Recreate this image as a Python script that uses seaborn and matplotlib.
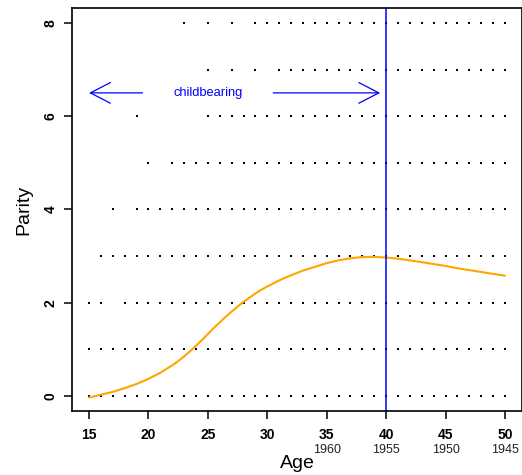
import numpy as np
import pandas as pd
import matplotlib
matplotlib.use("Agg")
import matplotlib.pyplot as plt
import seaborn as sns

# Ages (in years) at which women of each parity are observed
parity_0 = [15, 16, 17, 18, 19, 20, 21, 22, 23, 24, 25, 26, 27, 28, 29, 30, 31, 32,
            33, 34, 35, 36, 37, 38, 39, 40, 41, 42, 43, 44, 45, 46, 47, 48, 49, 50]
parity_1 = [15, 16, 17, 18, 19, 20, 21, 22, 23, 24, 25, 26, 27, 28, 29, 30, 31, 32,
            33, 34, 35, 36, 37, 38, 39, 40, 41, 42, 43, 44, 45, 46, 47, 48, 49, 50]
parity_2 = [15, 16, 18, 19, 20, 21, 22, 23, 24, 25, 26, 27, 28, 29, 30, 31, 32,
            33, 34, 35, 36, 37, 38, 39, 40, 41, 42, 43, 44, 45, 46, 47, 48, 49, 50]
parity_3 = [16, 17, 18, 19, 20, 21, 22, 23, 24, 25, 26, 27, 28, 29, 30, 31, 32,
            33, 34, 35, 36, 37, 38, 39, 40, 41, 42, 43, 44, 45, 46, 47, 48, 49, 50]
parity_4 = [17, 19, 20, 21, 22, 23, 24, 25, 26, 27, 28, 29, 30, 31, 32,
            33, 34, 35, 36, 37, 38, 39, 40, 41, 42, 43, 44, 45, 46, 47, 48, 49, 50]
parity_5 = [20, 22, 23, 24, 25, 26, 27, 28, 29, 30, 31, 32,
            33, 34, 35, 36, 37, 38, 39, 40, 41, 42, 43, 44, 45, 46, 47, 48, 49, 50]
parity_6 = [19, 25, 26, 27, 28, 29, 30, 31, 32,
            33, 34, 35, 36, 37, 38, 39, 40, 41, 42, 43, 44, 45, 46, 47, 48, 49, 50]
parity_7 = [25, 27, 29, 31, 32,
            33, 34, 35, 36, 37, 38, 39, 40, 41, 42, 43, 44, 45, 46, 47, 48, 49, 50]
parity_8 = [23, 25, 27, 29, 30, 31, 32,
            33, 34, 35, 36, 37, 38, 39, 40, 41, 42, 43, 44, 45, 46, 47, 48, 49, 50]

# Mean parity by age (smoothed), read at half-year steps
curve_age = [15, 16, 17, 18, 19, 20, 21, 22, 22.5, 23, 23.5, 24, 24.5, 25, 25.5,
             26, 26.5, 27, 27.5, 28, 28.5, 29, 29.5, 30, 31, 32, 33, 34, 35, 36,
             37, 38, 39, 40, 41, 42, 43, 44, 45, 46, 47, 48, 49, 50]
curve_parity = [-0.03, 0.03, 0.09, 0.17, 0.26, 0.37, 0.50, 0.66, 0.75, 0.85,
                0.96, 1.08, 1.20, 1.33, 1.46, 1.58, 1.70, 1.81, 1.92, 2.02,
                2.11, 2.20, 2.28, 2.35, 2.48, 2.59, 2.69, 2.77, 2.85, 2.91,
                2.955, 2.98, 2.985, 2.97, 2.945, 2.91, 2.87, 2.83, 2.79, 2.74,
                2.70, 2.66, 2.62, 2.58]

x_ticks = [15, 20, 25, 30, 35, 40, 45, 50]
y_ticks = [0, 2, 4, 6, 8]
cohort_ages = [35, 40, 45, 50]
cohort_years = ["1960", "1955", "1950", "1945"]
survey_age = 40

rows = [parity_0, parity_1, parity_2, parity_3, parity_4,
        parity_5, parity_6, parity_7, parity_8]
obs = pd.DataFrame(
    [(a, p) for p, ages in enumerate(rows) for a in ages],
    columns=["age", "parity"],
)
curve = pd.DataFrame({"age": curve_age, "parity": curve_parity})

sns.set_theme(style="white")
plt.rcParams["font.family"] = ["Liberation Sans", "DejaVu Sans"]

fig = plt.figure(figsize=(5.22, 4.75), dpi=100)
ax = fig.add_axes([0.1387, 0.1347, 0.8605, 0.8485])

sns.scatterplot(data=obs, x="age", y="parity", ax=ax, marker="s", s=4.2,
                color="black", linewidth=0, legend=False)
sns.lineplot(data=curve, x="age", y="parity", ax=ax, color="orange", lw=1.5)

ax.axvline(survey_age, color="blue", lw=1.1)

arrow_kw = dict(arrowstyle="->,head_length=1.2,head_width=0.62",
                color="blue", lw=0.9, shrinkA=0, shrinkB=0)
ax.annotate("", xy=(15, 6.5), xytext=(19.5, 6.5), arrowprops=arrow_kw)
ax.annotate("", xy=(39.5, 6.5), xytext=(30.5, 6.5), arrowprops=arrow_kw)
ax.text(25, 6.5, "childbearing", color="blue", fontsize=9.3,
        ha="center", va="center")

ax.set_xlim(13.6, 51.4)
ax.set_ylim(-0.32, 8.32)
ax.set_xticks(x_ticks)
ax.set_yticks(y_ticks)
ax.set_xticklabels([str(v) for v in x_ticks], fontweight="bold", fontsize=10)
ax.set_yticklabels([str(v) for v in y_ticks], fontweight="bold", fontsize=10,
                   rotation=90, va="center")
ax.tick_params(axis="both", direction="out", length=5.5, width=1.1,
               color="black", labelcolor="black", bottom=True, left=True)
ax.tick_params(axis="x", pad=7)
ax.tick_params(axis="y", pad=5)

for sp in ax.spines.values():
    sp.set_color("black")
    sp.set_linewidth(1.2)

xt = ax.get_xaxis_transform()
for a, yr in zip(cohort_ages, cohort_years):
    ax.text(a, -0.097, yr, transform=xt, ha="center", va="center",
            fontsize=9, color="#222222")

ax.set_xlabel("Age", fontsize=14, color="black")
ax.set_ylabel("Parity", fontsize=14, color="black")
ax.xaxis.set_label_coords(0.5, -0.129)
ax.xaxis.label.set_va("center")
ax.yaxis.set_label_coords(-0.108, 0.5)
ax.yaxis.label.set_va("center")

fig.savefig("out.png", dpi=100)
